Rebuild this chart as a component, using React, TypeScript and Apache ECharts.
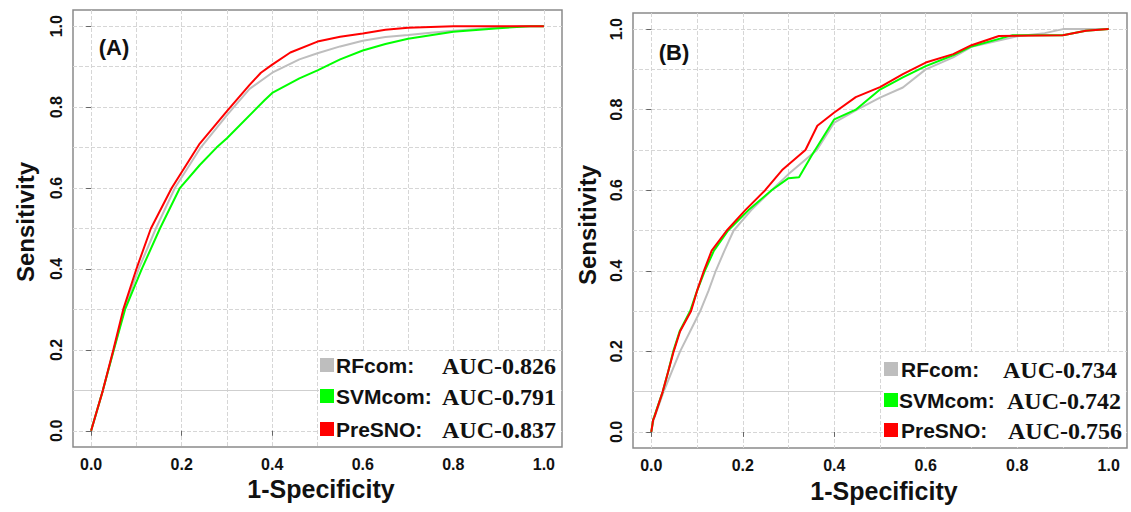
import React, { useEffect, useRef } from "react";
import * as echarts from "echarts";

// ---- data ----
const axisTickValues = [0, 0.2, 0.4, 0.6, 0.8, 1.0];
const seriesNames = ["RFcom", "SVMcom", "PreSNO"];
const seriesColors = ["#BEBEBE", "#00FF00", "#FF0000"];
const aucA = ["AUC-0.826", "AUC-0.791", "AUC-0.837"];
const aucB = ["AUC-0.734", "AUC-0.742", "AUC-0.756"];

const rfA: number[][] = [
  [0, 0], [0.026, 0.1], [0.05, 0.2], [0.073, 0.3], [0.105, 0.4], [0.143, 0.5], [0.185, 0.6],
  [0.242, 0.7], [0.3, 0.78], [0.35, 0.845], [0.4, 0.885], [0.46, 0.918], [0.5, 0.933],
  [0.55, 0.95], [0.6, 0.964], [0.65, 0.973], [0.7, 0.978], [0.75, 0.984], [0.8, 0.989],
  [0.9, 0.997], [0.95, 1.0], [1.0, 1.0],
];
const svmA: number[][] = [
  [0, 0], [0.026, 0.1], [0.05, 0.2], [0.075, 0.3], [0.112, 0.4], [0.152, 0.5], [0.196, 0.6],
  [0.24, 0.657], [0.277, 0.7], [0.3, 0.723], [0.383, 0.817], [0.4, 0.835], [0.46, 0.871],
  [0.5, 0.891], [0.55, 0.918], [0.6, 0.94], [0.65, 0.956], [0.7, 0.969], [0.8, 0.986],
  [0.9, 0.995], [0.97, 1.0], [1.0, 1.0],
];
const preA: number[][] = [
  [0, 0], [0.013, 0.05], [0.026, 0.1], [0.049, 0.2], [0.071, 0.3], [0.1, 0.4], [0.132, 0.5],
  [0.178, 0.6], [0.24, 0.71], [0.3, 0.79], [0.35, 0.855], [0.375, 0.885], [0.4, 0.905],
  [0.44, 0.935], [0.5, 0.962], [0.55, 0.974], [0.6, 0.982], [0.65, 0.991], [0.7, 0.996],
  [0.8, 1.0], [1.0, 1.0],
];

const rfB: number[][] = [
  [0, 0], [0.005, 0.03], [0.027, 0.1], [0.045, 0.15], [0.063, 0.2], [0.085, 0.25], [0.107, 0.3],
  [0.125, 0.35], [0.141, 0.4], [0.16, 0.45], [0.18, 0.5], [0.218, 0.55], [0.263, 0.6],
  [0.3, 0.64], [0.362, 0.7], [0.4, 0.768], [0.45, 0.8], [0.5, 0.83], [0.55, 0.855],
  [0.6, 0.9], [0.66, 0.93], [0.7, 0.956], [0.8, 0.982], [0.86, 0.99], [0.9, 1.0], [1.0, 1.0],
];
const svmB: number[][] = [
  [0, 0], [0.004, 0.03], [0.025, 0.1], [0.037, 0.15], [0.048, 0.2], [0.062, 0.25], [0.085, 0.3],
  [0.1, 0.35], [0.117, 0.4], [0.137, 0.45], [0.168, 0.5], [0.212, 0.55], [0.263, 0.6],
  [0.3, 0.63], [0.323, 0.632], [0.35, 0.685], [0.4, 0.776], [0.447, 0.8], [0.5, 0.85],
  [0.55, 0.88], [0.6, 0.908], [0.66, 0.935], [0.7, 0.957], [0.79, 0.985], [0.9, 0.985],
  [0.95, 0.996], [1.0, 1.0],
];
const preB: number[][] = [
  [0, 0], [0.004, 0.03], [0.007, 0.038], [0.025, 0.1], [0.037, 0.15], [0.049, 0.2],
  [0.063, 0.25], [0.087, 0.3], [0.1, 0.35], [0.115, 0.4], [0.132, 0.45], [0.165, 0.5],
  [0.205, 0.55], [0.249, 0.6], [0.286, 0.65], [0.337, 0.7], [0.363, 0.76], [0.4, 0.793],
  [0.447, 0.831], [0.5, 0.856], [0.55, 0.888], [0.6, 0.917], [0.66, 0.938], [0.7, 0.96],
  [0.76, 0.983], [0.9, 0.985], [0.95, 0.996], [1.0, 1.0],
];

const SANS = "Liberation Sans";
const SERIF = "Liberation Serif";

export default function App() {
  const ref = useRef<HTMLDivElement>(null);

  useEffect(() => {
    if (!ref.current) return;
    const chart = echarts.init(ref.current, null, { renderer: "svg" });

    const panels = [
      { box: { left: 73, top: 10, width: 489, height: 437 }, data: [rfA, svmA, preA] },
      { box: { left: 633, top: 13, width: 494, height: 435 }, data: [rfB, svmB, preB] },
    ];

    const grids: any[] = [];
    const xAxes: any[] = [];
    const yAxes: any[] = [];
    const series: any[] = [];
    const gridLineStyle = { color: "#d6d6d6", type: "dashed", width: 1, opacity: 1 };
    const hiddenAxis = (gi: number) => ({
      type: "value", min: 0, max: 1, gridIndex: gi,
      axisLine: { show: false }, axisTick: { show: false }, axisLabel: { show: false },
      splitLine: { show: false },
    });

    panels.forEach((p, pi) => {
      const b = p.box;
      const sx = b.width / 1.08;
      const sy = b.height / 1.08;
      const base = pi * 3;
      // grid 0: vertical dashed lines (full box height)
      grids.push({ left: b.left + 0.04 * sx, width: sx, top: b.top, height: b.height, show: false });
      xAxes.push({
        type: "value", min: 0, max: 1, interval: 0.1, gridIndex: base,
        axisLine: { show: false }, axisTick: { show: false }, axisLabel: { show: false },
        splitLine: { show: true, lineStyle: gridLineStyle },
      });
      yAxes.push(hiddenAxis(base));
      // grid 1: horizontal dashed lines (full box width)
      grids.push({ left: b.left, width: b.width, top: b.top + 0.04 * sy, height: sy, show: false });
      xAxes.push(hiddenAxis(base + 1));
      yAxes.push({
        type: "value", min: 0, max: 1, interval: 0.1, gridIndex: base + 1,
        axisLine: { show: false }, axisTick: { show: false }, axisLabel: { show: false },
        splitLine: { show: true, lineStyle: gridLineStyle },
      });
      // grid 2: main box with curves
      grids.push({ ...b, show: true, borderColor: "#8a8a8a", borderWidth: 1.5, backgroundColor: "rgba(0,0,0,0)" });
      const mainCommon = {
        type: "value", min: -0.04, max: 1.04,
        axisLine: { show: false },
        axisTick: { show: true, customValues: axisTickValues, length: 5, lineStyle: { color: "#666", width: 1 } },
        splitLine: { show: false },
      };
      xAxes.push({
        ...mainCommon, gridIndex: base + 2, position: "bottom",
        axisLabel: {
          customValues: axisTickValues, formatter: (v: number) => v.toFixed(1),
          fontFamily: SANS, fontWeight: "bold", fontSize: 16, color: "#111", margin: 9,
        },
      });
      yAxes.push({
        ...mainCommon, gridIndex: base + 2, position: "left",
        axisLabel: {
          customValues: axisTickValues, formatter: (v: number) => v.toFixed(1), rotate: 90,
          fontFamily: SANS, fontWeight: "bold", fontSize: 16, color: "#111", margin: 9,
        },
      });
      p.data.forEach((d, si) => {
        const s: any = {
          type: "line", name: seriesNames[si], xAxisIndex: base + 2, yAxisIndex: base + 2,
          data: d, showSymbol: false, symbol: "none", z: 3 + si,
          lineStyle: { color: seriesColors[si], width: 2 }, itemStyle: { color: seriesColors[si] },
        };
        if (si === 0) {
          s.markLine = {
            silent: true, symbol: "none", label: { show: false },
            lineStyle: { color: "#cfcfcf", type: "solid", width: 1.2 },
            data: [{ yAxis: 0.1 }],
          };
        }
        series.push(s);
      });
    });

    const legendA = { rect: { x: 319, y: 351, w: 242, h: 95 }, sq: 320, rows: [365, 396, 429], lx: [336, 336, 336], ax: [442, 442, 442], auc: aucA };
    const legendB = { rect: { x: 883, y: 352, w: 243, h: 95 }, sq: 884, rows: [369, 400, 430], lx: [901, 899, 901], ax: [1003, 1007, 1008], auc: aucB };

    const graphics: any[] = [];
    [legendA, legendB].forEach((L) => {
      graphics.push({
        type: "rect", z: 10, shape: { x: L.rect.x, y: L.rect.y, width: L.rect.w, height: L.rect.h },
        style: { fill: "#ffffff" },
      });
      L.rows.forEach((cy, i) => {
        graphics.push({
          type: "rect", z: 11, shape: { x: L.sq, y: cy - 7, width: 14, height: 14 },
          style: { fill: seriesColors[i] },
        });
        graphics.push({
          type: "text", z: 11, x: L.lx[i], y: cy,
          style: { text: seriesNames[i] + ":", font: `bold 21px "${SANS}"`, fill: "#111", textAlign: "left", textVerticalAlign: "middle" },
        });
        graphics.push({
          type: "text", z: 11, x: L.ax[i], y: cy + 1,
          style: { text: L.auc[i], font: `bold 24px "${SERIF}"`, fill: "#111", textAlign: "left", textVerticalAlign: "middle" },
        });
      });
    });

    const titles = [
      { t: "(A)", x: 114, y: 47 },
      { t: "(B)", x: 674, y: 52 },
    ];
    titles.forEach((tt) => {
      graphics.push({
        type: "text", z: 11, x: tt.x, y: tt.y,
        style: { text: tt.t, font: `bold 22px "${SANS}"`, fill: "#111", textAlign: "center", textVerticalAlign: "middle" },
      });
    });
    const xTitles = [{ x: 321, y: 489 }, { x: 884, y: 491 }];
    xTitles.forEach((p) => {
      graphics.push({
        type: "text", z: 11, x: p.x, y: p.y,
        style: { text: "1-Specificity", font: `bold 25px "${SANS}"`, fill: "#111", textAlign: "center", textVerticalAlign: "middle" },
      });
    });
    const yTitles = [{ x: 25, y: 222 }, { x: 587, y: 225 }];
    yTitles.forEach((p) => {
      graphics.push({
        type: "text", z: 11, x: p.x, y: p.y, rotation: Math.PI / 2,
        style: { text: "Sensitivity", font: `bold 24px "${SANS}"`, fill: "#111", textAlign: "center", textVerticalAlign: "middle" },
      });
    });

    chart.setOption({
      animation: false,
      backgroundColor: "#ffffff",
      grid: grids,
      xAxis: xAxes,
      yAxis: yAxes,
      series,
      graphic: graphics,
    });

    return () => chart.dispose();
  }, []);

  return (
    <div
      ref={ref}
      style={{ position: "absolute", left: 0, top: 0, width: 1131, height: 512 }}
    />
  );
}
